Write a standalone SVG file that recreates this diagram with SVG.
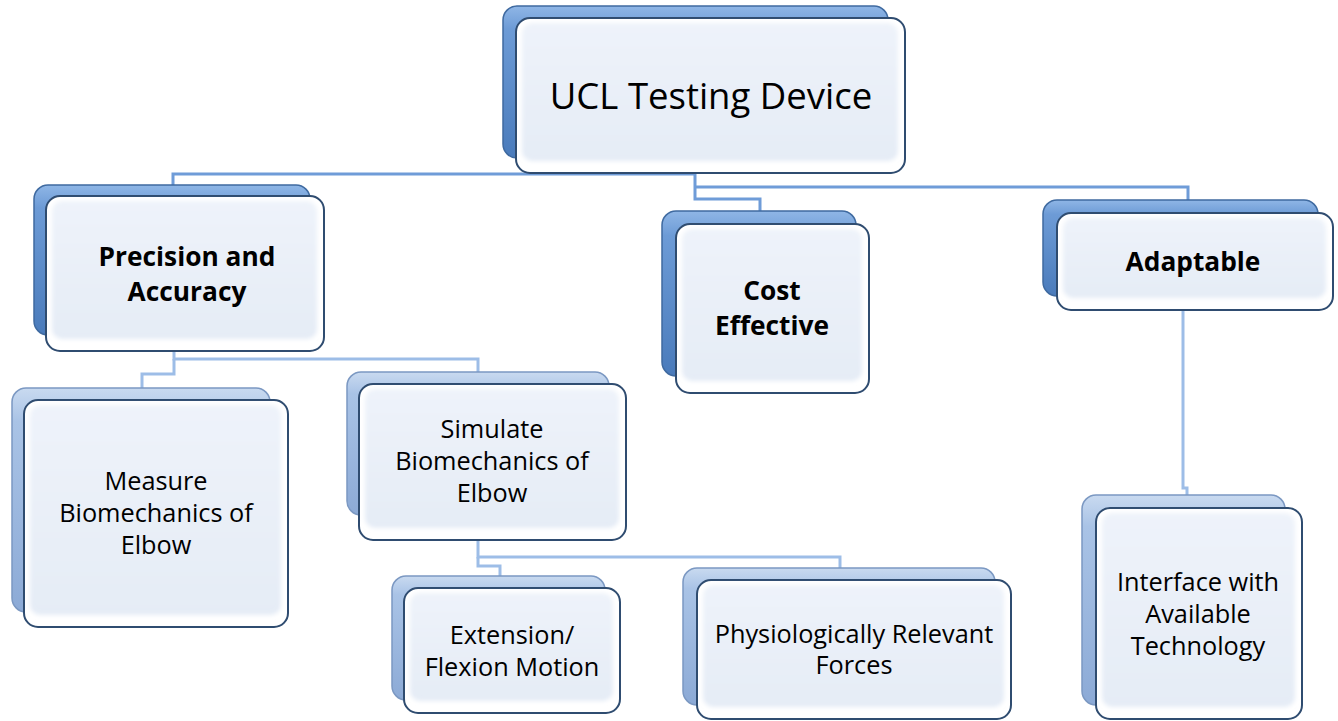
<svg xmlns="http://www.w3.org/2000/svg" width="1338" height="721" viewBox="0 0 1338 721">
<defs>
<linearGradient id="backTop" x1="0" y1="0" x2="0" y2="1">
<stop offset="0" stop-color="#8fb6e6"/>
<stop offset="0.15" stop-color="#6d9bd6"/>
<stop offset="1" stop-color="#4a7bbb"/>
</linearGradient>
<linearGradient id="backLow" x1="0" y1="0" x2="0" y2="1">
<stop offset="0" stop-color="#c9daf0"/>
<stop offset="0.15" stop-color="#a9c3e6"/>
<stop offset="1" stop-color="#8caad6"/>
</linearGradient>
<linearGradient id="face" x1="0" y1="0" x2="0" y2="1">
<stop offset="0" stop-color="#eef3fa"/>
<stop offset="1" stop-color="#e5ecf6"/>
</linearGradient>
<filter id="soft" x="-5%" y="-5%" width="110%" height="110%">
<feGaussianBlur stdDeviation="2.2"/>
</filter>
</defs>
<style>
.bt{fill:url(#backTop);stroke:#3f6aa0;stroke-width:1.5}
.bl{fill:url(#backLow);stroke:#7b98c2;stroke-width:1.5}
.fr{fill:#ffffff;stroke:#2f4c70;stroke-width:2}
.fi{fill:url(#face);filter:url(#soft)}
.ct{fill:none;stroke:#6f9cd8;stroke-width:3}
.cl{fill:none;stroke:#9dbde7;stroke-width:3}
text{font-family:"Open Sans","Liberation Sans",sans-serif;fill:#000;text-anchor:middle}
.r{font-size:25.3px}
.b{font-size:26.3px;font-weight:bold}
.t{font-size:36.5px}
</style>
<g id="connectors">
<path class="ct" d="M695,172 V199 H760 V212"/>
<path class="ct" d="M695,187 H1188 V201"/>
<path class="ct" d="M695,174 H173 V186"/>
<path class="cl" d="M174,350 V359 H478 V373"/>
<path class="cl" d="M174,359 V374 H142 V389"/>
<path class="cl" d="M478,539 V557 H840 V569"/>
<path class="cl" d="M478,557 V566 H500 V577"/>
<path class="cl" d="M1183,309 V488 H1187 V496"/>
</g>
<g id="node-ucl">
<rect class="bt" x="503" y="6" width="385" height="152" rx="14"/>
<rect class="fr" x="516" y="18" width="389" height="155" rx="14"/>
<rect class="fi" x="522" y="23" width="376" height="138" rx="10"/>
<text class="t" x="711" y="109">UCL Testing Device</text>
</g>
<g id="node-precision">
<rect class="bt" x="34" y="185" width="276" height="150" rx="14"/>
<rect class="fr" x="46" y="196" width="278" height="155" rx="14"/>
<rect class="fi" x="52" y="201" width="265" height="138" rx="10"/>
<text class="b" x="187" y="266">Precision and</text>
<text class="b" x="187" y="301">Accuracy</text>
</g>
<g id="node-cost">
<rect class="bt" x="662" y="211" width="194" height="165" rx="14"/>
<rect class="fr" x="676" y="224" width="193" height="169" rx="14"/>
<rect class="fi" x="682" y="229" width="180" height="152" rx="10"/>
<text class="b" x="772" y="300">Cost</text>
<text class="b" x="772" y="335">Effective</text>
</g>
<g id="node-adaptable">
<rect class="bt" x="1043" y="200" width="275" height="96" rx="14"/>
<rect class="fr" x="1057" y="213" width="276" height="97" rx="14"/>
<rect class="fi" x="1063" y="218" width="263" height="80" rx="10"/>
<text class="b" x="1193" y="271">Adaptable</text>
</g>
<g id="node-measure">
<rect class="bl" x="12" y="388" width="258" height="224" rx="14"/>
<rect class="fr" x="24" y="400" width="264" height="227" rx="14"/>
<rect class="fi" x="30" y="405" width="251" height="210" rx="10"/>
<text class="r" x="156" y="490">Measure</text>
<text class="r" x="156" y="522">Biomechanics of</text>
<text class="r" x="156" y="554">Elbow</text>
</g>
<g id="node-simulate">
<rect class="bl" x="347" y="372" width="262" height="143" rx="14"/>
<rect class="fr" x="359" y="384" width="267" height="156" rx="14"/>
<rect class="fi" x="365" y="389" width="254" height="139" rx="10"/>
<text class="r" x="492" y="438">Simulate</text>
<text class="r" x="492" y="470">Biomechanics of</text>
<text class="r" x="492" y="502">Elbow</text>
</g>
<g id="node-extension">
<rect class="bl" x="392" y="576" width="213" height="124" rx="14"/>
<rect class="fr" x="404" y="588" width="216" height="125" rx="14"/>
<rect class="fi" x="410" y="593" width="203" height="108" rx="10"/>
<text class="r" x="512" y="644">Extension/</text>
<text class="r" x="512" y="676">Flexion Motion</text>
</g>
<g id="node-forces">
<rect class="bl" x="683" y="568" width="312" height="137" rx="14"/>
<rect class="fr" x="697" y="580" width="314" height="139" rx="14"/>
<rect class="fi" x="703" y="585" width="301" height="122" rx="10"/>
<text class="r" x="854" y="643">Physiologically Relevant</text>
<text class="r" x="854" y="674">Forces</text>
</g>
<g id="node-interface">
<rect class="bl" x="1082" y="495" width="203" height="210" rx="14"/>
<rect class="fr" x="1096" y="508" width="206" height="211" rx="14"/>
<rect class="fi" x="1102" y="513" width="193" height="194" rx="10"/>
<text class="r" x="1198" y="591">Interface with</text>
<text class="r" x="1198" y="623">Available</text>
<text class="r" x="1198" y="655">Technology</text>
</g>
</svg>
